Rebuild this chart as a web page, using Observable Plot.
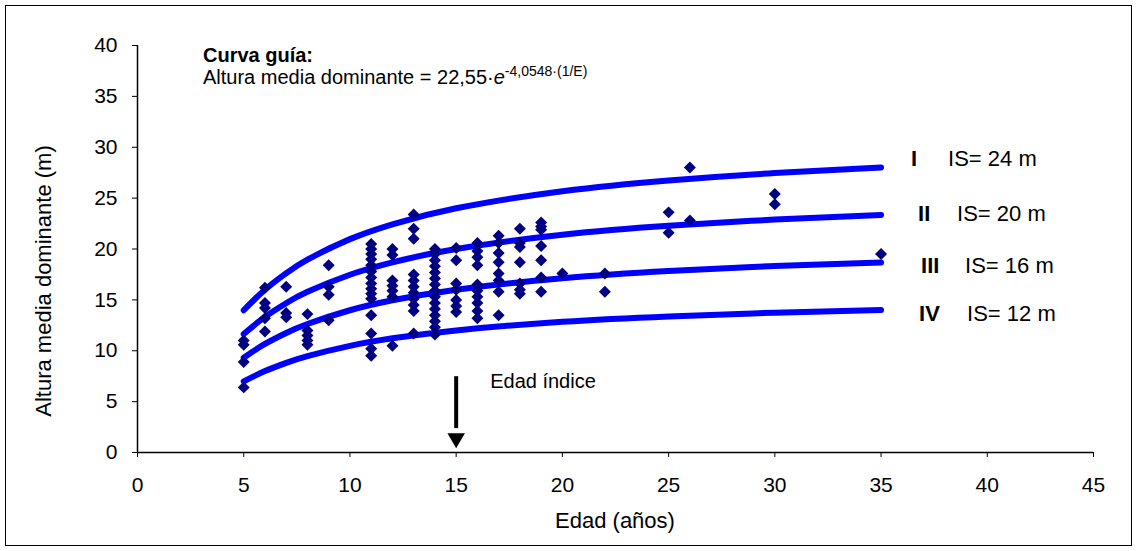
<!DOCTYPE html>
<html>
<head>
<meta charset="utf-8">
<script src="https://cdn.jsdelivr.net/npm/d3@7"></script>
<script src="https://cdn.jsdelivr.net/npm/@observablehq/plot@0.6"></script>
<style>
  html, body { margin: 0; padding: 0; background: #fff; }
  #wrap { position: relative; width: 1138px; height: 551px; }
  #frame { position: absolute; left: 5px; top: 5px; width: 1127px; height: 541px; border: 1px solid #000; box-sizing: border-box; pointer-events: none; }
  svg { font-family: "Liberation Sans", Arial, sans-serif; }
</style>
</head>
<body>
<div id="wrap"><div id="frame"></div></div>
<script>
// Guide curves (site index curves), height by age
const edadCurva = [5, 6, 7, 8, 10, 12, 15, 20, 25, 30, 35];
const curvaI   = [13.98, 16.00, 17.62, 18.95, 20.97, 22.43, 24.00, 25.68, 26.74, 27.47, 28.01];
const curvaII  = [11.65, 13.33, 14.68, 15.79, 17.47, 18.69, 20.00, 21.40, 22.28, 22.89, 23.34];
const curvaIII = [9.32, 10.67, 11.75, 12.63, 13.98, 14.96, 16.00, 17.12, 17.83, 18.32, 18.67];
const curvaIV  = [6.99, 8.00, 8.81, 9.47, 10.48, 11.22, 12.00, 12.84, 13.37, 13.74, 14.00];
const clases = ["I", "II", "III", "IV"];
const indices = ["IS= 24 m", "IS= 20 m", "IS= 16 m", "IS= 12 m"];

// Observed plots: age groups and heights
const edadesObs = [5, 6, 7, 8, 9, 11, 12, 13, 14, 15, 16, 17, 18, 19, 20, 22, 25, 26, 30, 35];
const alturasObs = [
  [11.0, 10.6, 8.9, 6.4],
  [16.2, 14.7, 14.2, 13.2, 11.9],
  [16.3, 13.7, 13.3],
  [13.6, 12.0, 11.5, 11.0, 10.6],
  [18.4, 16.3, 15.5, 13.0],
  [20.5, 20.0, 19.5, 19.0, 18.4, 17.8, 17.2, 16.6, 16.1, 15.6, 15.1, 13.5, 11.7, 10.2, 9.5],
  [20.0, 19.4, 16.9, 16.4, 15.9, 15.3, 10.5],
  [23.4, 22.0, 21.0, 17.5, 16.9, 16.3, 15.7, 15.1, 14.5, 13.9, 11.7],
  [20.0, 19.5, 18.9, 18.3, 17.7, 17.1, 16.5, 15.9, 15.3, 14.7, 14.1, 13.5, 12.9, 12.3, 11.6],
  [20.1, 18.9, 16.6, 16.0, 15.0, 14.4, 13.8],
  [20.6, 19.8, 19.2, 18.4, 16.5, 15.9, 15.3, 14.7, 13.9, 13.2],
  [21.3, 20.6, 19.6, 18.7, 17.6, 16.9, 15.8, 13.5],
  [22.0, 20.6, 20.2, 18.7, 16.6, 16.0, 15.6],
  [22.6, 22.2, 21.9, 20.3, 18.9, 17.2, 15.8],
  [17.6],
  [17.6, 15.8],
  [23.6, 21.6],
  [28.0, 22.8],
  [25.4, 24.4],
  [19.5]
];
const edadIndice = 15;
const xTicks = [0, 5, 10, 15, 20, 25, 30, 35, 40, 45];
const yTicks = [0, 5, 10, 15, 20, 25, 30, 35, 40];
const xLabel = "Edad (años)";
const yLabel = "Altura media dominante (m)";

const curvas = [curvaI, curvaII, curvaIII, curvaIV];
const curveRows = curvas.flatMap((c, k) => c.map((h, i) => ({edad: edadCurva[i], altura: h, clase: clases[k]})));
const obsRows = edadesObs.flatMap((e, i) => alturasObs[i].map(h => ({edad: e, altura: h})));

// label placement tweaks (pixels) relative to curve end
const labDy = [-9, -1.5, 3, 3.5];
const numDx = [30, 37, 40, 38];
const isDx = [67, 76, 84, 86];

const labelMarks = curvas.flatMap((c, k) => [
  Plot.text([{x: 35, y: c[c.length - 1], t: clases[k]}], {x: "x", y: "y", text: "t", dx: numDx[k], dy: labDy[k], textAnchor: "start", fontWeight: "bold", fontSize: 22, fill: "#000"}),
  Plot.text([{x: 35, y: c[c.length - 1], t: indices[k]}], {x: "x", y: "y", text: "t", dx: isDx[k], dy: labDy[k], textAnchor: "start", fontSize: 22, fill: "#000"})
]);

const plot = Plot.plot({
  width: 1138,
  height: 551,
  marginLeft: 137,
  marginRight: 45,
  marginTop: 45,
  marginBottom: 99,
  style: {fontFamily: "'Liberation Sans', Arial, sans-serif", fontSize: "20px", color: "#000", background: "transparent"},
  x: {domain: [0, 45]},
  y: {domain: [0, 40]},
  marks: [
    Plot.axisX({ticks: xTicks, tickSize: 5, tickPadding: 20, fontSize: 21, label: null}),
    Plot.axisY({ticks: yTicks, tickSize: 5, tickPadding: 15, fontSize: 21, label: null}),
    Plot.ruleY([0], {stroke: "#000", strokeWidth: 1.5}),
    Plot.ruleX([0], {stroke: "#000", strokeWidth: 1.5}),
    Plot.line(curveRows, {x: "edad", y: "altura", z: "clase", curve: "natural", stroke: "#0000ff", strokeWidth: 6, strokeLinecap: "round"}),
    Plot.dot(obsRows, {x: "edad", y: "altura", symbol: "diamond2", r: 5.4, fill: "#000080", stroke: "none"}),
    Plot.link([{x: edadIndice, y1: 7.5, y2: 2.4}], {x1: "x", x2: "x", y1: "y1", y2: "y2", stroke: "#000", strokeWidth: 4}),
    Plot.dot([{x: edadIndice, y: 1.4}], {x: "x", y: "y", symbol: "triangle", r: 6.5, rotate: 180, fill: "#000"}),
    Plot.text([{x: edadIndice, y: 7.0, t: "Edad índice"}], {x: "x", y: "y", text: "t", dx: 34, textAnchor: "start", fontSize: 20, fill: "#000"}),
    ...labelMarks
  ]
});

document.getElementById("wrap").appendChild(plot);

const svg = d3.select(plot);
const g = svg.append("g").attr("font-family", "'Liberation Sans', Arial, sans-serif").attr("fill", "#000").attr("text-anchor", "start");
// axis titles
g.append("text").attr("x", 615).attr("y", 528).attr("font-size", 22).attr("text-anchor", "middle").text(xLabel);
g.append("text").attr("transform", "translate(51,281) rotate(-90)").attr("font-size", 22).attr("text-anchor", "middle").text(yLabel);
// formula annotation with superscript
g.append("text").attr("x", 203).attr("y", 62).attr("font-size", 20).attr("font-weight", "bold").text("Curva guía:");
const t2 = g.append("text").attr("x", 203).attr("y", 84).attr("font-size", 20);
t2.append("tspan").text("Altura media dominante = 22,55·");
t2.append("tspan").attr("font-style", "italic").text("e");
t2.append("tspan").attr("font-size", 14).attr("dy", -8).text("-4,0548·(1/E)");
</script>
</body>
</html>
